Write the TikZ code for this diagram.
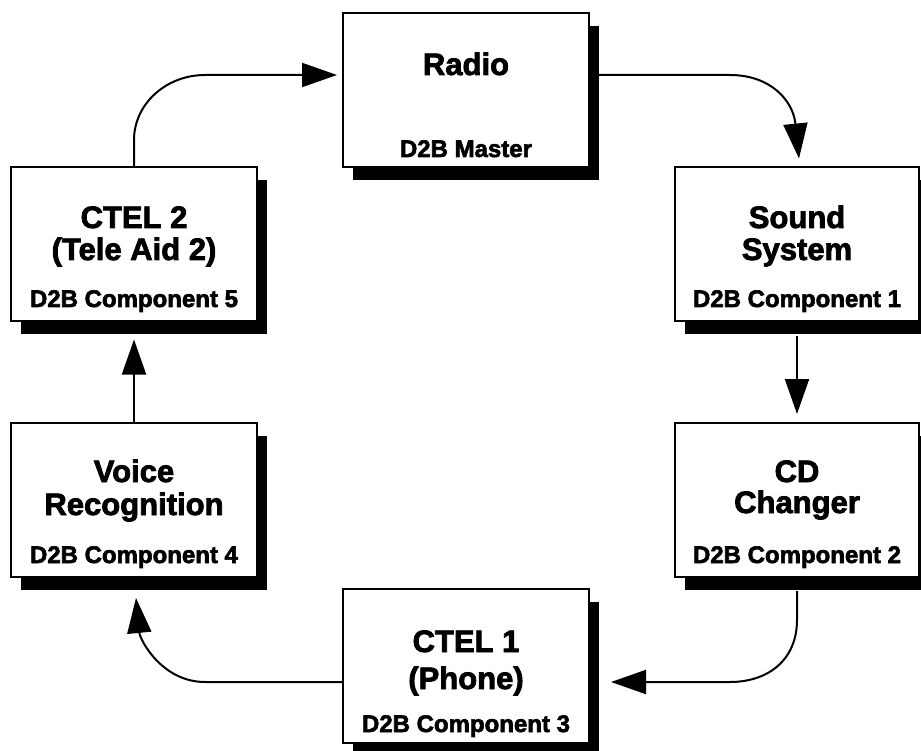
\documentclass[tikz,border=0pt]{standalone}
\usepackage{fontspec}
\setmainfont{Liberation Sans}[BoldFeatures={FakeBold=2.5}]
\usetikzlibrary{arrows.meta,shadows,calc}
\begin{document}
\begin{tikzpicture}[x=1pt,y=-1pt,
 box/.style={draw=black,line width=2pt,fill=white,minimum width=246pt,minimum height=154pt,inner sep=0pt,
   drop shadow={shadow xshift=10pt,shadow yshift=-13pt,opacity=1,fill=black}},
 ttl/.style={anchor=base,inner sep=0pt,font=\fontsize{31}{34}\selectfont\bfseries},
 sub/.style={anchor=base,inner sep=0pt,font=\fontsize{24}{26}\selectfont\bfseries},
 arr/.style={line width=2pt,-{Triangle[length=35pt,width=24pt]}}]
\useasboundingbox (0,0) rectangle (921,751);

\node[box] (radio) at (466,90) {};
\node[box,minimum width=244pt] (sound) at (797,244.5) {};
\node[box,minimum width=244pt] (cd) at (797,500) {};
\node[box] (ctel1) at (466,665.5) {};
\node[box] (voice) at (134,500) {};
\node[box] (ctel2) at (134,244.5) {};

\node[ttl] (radioT) at (radio.center |- 0,75) {Radio};
\node[sub] (radioS) at (radio.center |- 0,157) {D2B Master};

\node[ttl] (soundT1) at (sound.center |- 0,228) {Sound};
\node[ttl] (soundT2) at (sound.center |- 0,260) {System};
\node[sub] (soundS) at (sound.center |- 0,307) {D2B Component 1};

\node[ttl] (cdT1) at (cd.center |- 0,482) {CD};
\node[ttl] (cdT2) at (cd.center |- 0,513) {Changer};
\node[sub] (cdS) at (cd.center |- 0,563) {D2B Component 2};

\node[ttl] (ctel1T1) at (ctel1.center |- 0,652) {CTEL 1};
\node[ttl] (ctel1T2) at (ctel1.center |- 0,689) {(Phone)};
\node[sub] (ctel1S) at (ctel1.center |- 0,732) {D2B Component 3};

\node[ttl] (voiceT1) at (voice.center |- 0,482) {Voice};
\node[ttl] (voiceT2) at (voice.center |- 0,515) {Recognition};
\node[sub] (voiceS) at (voice.center |- 0,563) {D2B Component 4};

\node[ttl] (ctel2T1) at (ctel2.center |- 0,228) {CTEL 2};
\node[ttl] (ctel2T2) at (ctel2.center |- 0,260) {(Tele Aid 2)};
\node[sub] (ctel2S) at (ctel2.center |- 0,307) {D2B Component 5};

\draw[arr] (ctel2.north) -- (134,140) .. controls (134,104) and (166,75) .. (205,75) -- ([xshift=-5pt,yshift=15pt]radio.west);
\draw[arr] ([yshift=15pt]radio.east) -- (730,75) .. controls (770,75) and (793,100) .. ([xshift=2pt,yshift=8pt]sound.north);
\draw[arr] ([yshift=-13pt]sound.south) -- ([yshift=8pt]cd.north);
\draw[arr] ([yshift=-13pt]cd.south) -- (797,620) .. controls (797,660) and (768,682) .. (730,682) -- ([xshift=21pt,yshift=-16.5pt]ctel1.east);
\draw[arr] ([yshift=-16.5pt]ctel1.west) -- (205,682) .. controls (162,682) and (140,640) .. ([xshift=2pt,yshift=-20pt]voice.south);
\draw[arr] (voice.north) -- ([yshift=-17pt]ctel2.south);
\end{tikzpicture}
\end{document}
